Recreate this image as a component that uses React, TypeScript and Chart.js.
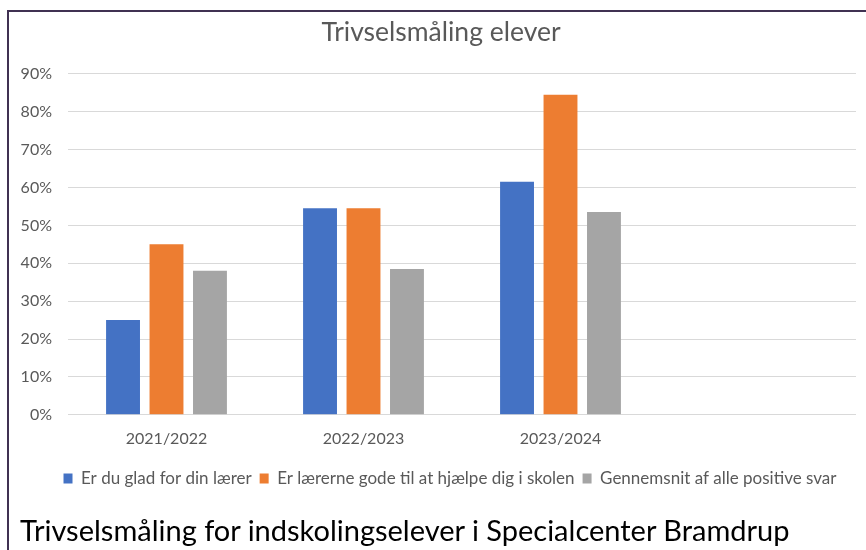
import React, { useEffect, useRef } from "react";
import { Chart, registerables } from "chart.js";
Chart.register(...registerables);

const categories = ["2021/2022", "2022/2023", "2023/2024", ""];
const seriesNames = [
  "Er du glad for din lærer",
  "Er lærerne gode til at hjælpe dig i skolen",
  "Gennemsnit af alle positive svar",
];
const gladValues = [0.25, 0.545, 0.615, null];
const hjaelpValues = [0.45, 0.545, 0.845, null];
const gennemsnitValues = [0.38, 0.385, 0.535, null];
const seriesColors = ["#4472C4", "#ED7D31", "#A5A5A5"];
const chartTitle = "Trivselsmåling elever";
const caption = "Trivselsmåling for indskolingselever i Specialcenter Bramdrup";

const shiftPlugin = {
  id: "shiftBoxes",
  afterLayout(chart: any) {
    if (chart.legend) {
      chart.legend.left += 17;
      chart.legend.right += 17;
    }
    if (chart.titleBlock) {
      chart.titleBlock.left += 8;
      chart.titleBlock.right += 8;
    }
  },
};

export default function App() {
  const ref = useRef<HTMLCanvasElement | null>(null);
  useEffect(() => {
    if (!ref.current) return;
    const chart = new Chart(ref.current, {
      type: "bar",
      data: {
        labels: categories,
        datasets: [gladValues, hjaelpValues, gennemsnitValues].map((d, i) => ({
          label: seriesNames[i],
          data: d,
          backgroundColor: seriesColors[i],
          categoryPercentage: 0.662,
          barPercentage: 0.78,
        })),
      },
      options: {
        animation: false,
        responsive: false,
        devicePixelRatio: 1,
        layout: { padding: { left: 10, right: 10, top: 12, bottom: 53 } },
        plugins: {
          tooltip: { enabled: false },
          title: {
            display: true,
            text: chartTitle,
            color: "#595959",
            font: { family: "Lato", size: 26.5, weight: "normal" },
            padding: { top: 5, bottom: 25 },
          },
          legend: {
            position: "bottom",
            labels: {
              boxWidth: 9,
              boxHeight: 10,
              color: "#595959",
              font: { family: "Lato", size: 17 },
              padding: 8,
            },
          },
        },
        scales: {
          x: {
            grid: { display: false, drawTicks: false },
            border: { display: false },
            ticks: { color: "#595959", font: { family: "Lato", size: 16 }, padding: 14 },
          },
          y: {
            min: 0,
            max: 0.9,
            afterFit: (s: any) => {
              s.width = 58;
            },
            ticks: {
              stepSize: 0.1,
              color: "#595959",
              padding: 16,
              font: { family: "Lato", size: 16 },
              callback: (v: any) => Math.round(Number(v) * 100) + "%",
            },
            grid: { color: "#D9D9D9", lineWidth: 1, drawTicks: false },
            border: { display: false },
          },
        },
      },
      plugins: [shiftPlugin],
    });
    return () => chart.destroy();
  }, []);
  return (
    <div style={{ position: "fixed", left: 0, top: 0, width: 866, height: 550, background: "#fff", overflow: "hidden" }}>
      <canvas ref={ref} width={866} height={550} style={{ position: "absolute", left: 0, top: 0 }} />
      <div style={{ position: "absolute", left: 7, top: 10, width: 2, height: 540, background: "#403152" }} />
      <div style={{ position: "absolute", left: 7, top: 10, width: 859, height: 2, background: "#403152" }} />
      <div
        style={{
          position: "absolute",
          left: 20,
          top: 512,
          fontFamily: "Lato",
          fontSize: 29,
          color: "#000",
          whiteSpace: "nowrap",
          lineHeight: "36px",
        }}
      >
        {caption}
      </div>
    </div>
  );
}
